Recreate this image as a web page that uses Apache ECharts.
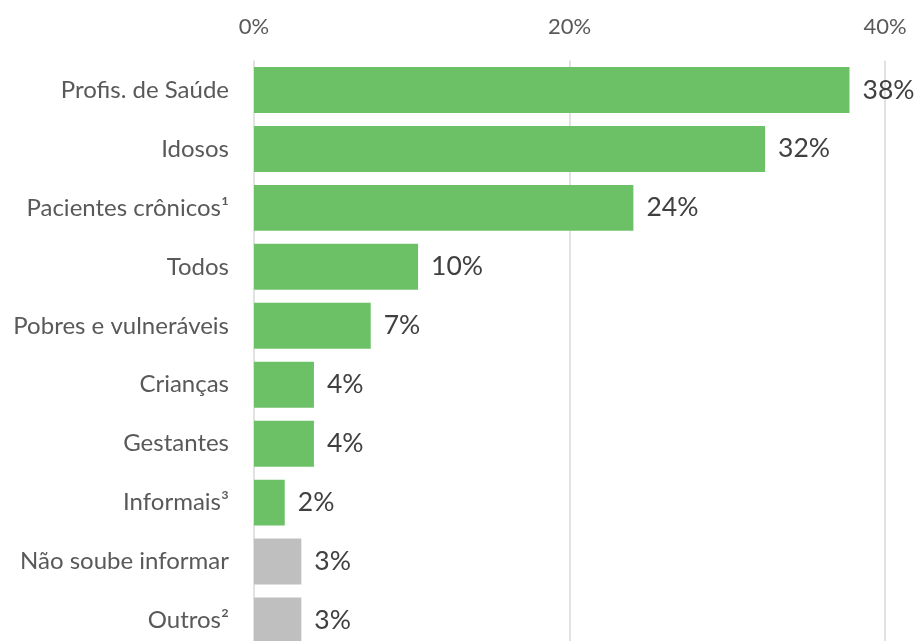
<!DOCTYPE html>
<html>
<head>
<meta charset="utf-8">
<script src="https://cdn.jsdelivr.net/npm/echarts@6/dist/echarts.min.js"></script>
<style>
html,body{margin:0;padding:0;background:#fff;}
#chart{width:918px;height:641px;}
</style>
</head>
<body>
<div id="chart"></div>
<script>
const categories = ["Profis. de Saúde","Idosos","Pacientes crônicos¹","Todos","Pobres e vulneráveis","Crianças","Gestantes","Informais³","Não soube informar","Outros²"];
const values = [37.75, 32.4, 24.05, 10.4, 7.4, 3.8, 3.8, 1.95, 3.0, 3.0];
const neutralCategories = ["Não soube informar","Outros²"];
const xTicks = [0, 20, 40];

const GREEN = '#6cc167';
const GRAY = '#bfbfbf';
const FONT = 'Lato';

const chart = echarts.init(document.getElementById('chart'), null, {renderer:'canvas'});
chart.setOption({
  backgroundColor: '#ffffff',
  animation: false,
  grid: { left: 254, right: 33, top: 60.5, bottom: -9, containLabel: false, outerBoundsMode: 'none' },
  xAxis: {
    type: 'value',
    position: 'top',
    min: xTicks[0],
    max: xTicks[xTicks.length-1],
    interval: xTicks[1]-xTicks[0],
    axisLine: { show: false },
    axisTick: { show: false },
    axisLabel: { formatter: '{value}%', color: '#595959', fontFamily: FONT, fontSize: 22, margin: 23 },
    splitLine: { show: true, lineStyle: { color: '#d9d9d9', width: 1.5 } }
  },
  yAxis: {
    type: 'category',
    inverse: true,
    data: categories,
    axisLine: { show: false },
    axisTick: { show: false },
    axisLabel: { color: '#595959', fontFamily: FONT, fontSize: 24, margin: 25 }
  },
  series: [{
    type: 'bar',
    data: values,
    barCategoryGap: '22%',
    itemStyle: {
      color: p => neutralCategories.includes(categories[p.dataIndex]) ? GRAY : GREEN
    },
    label: {
      show: true,
      position: 'right',
      distance: 13,
      formatter: p => Math.round(p.value) + '%',
      color: '#404040',
      fontFamily: FONT,
      fontSize: 26.5
    }
  }]
});
</script>
</body>
</html>
